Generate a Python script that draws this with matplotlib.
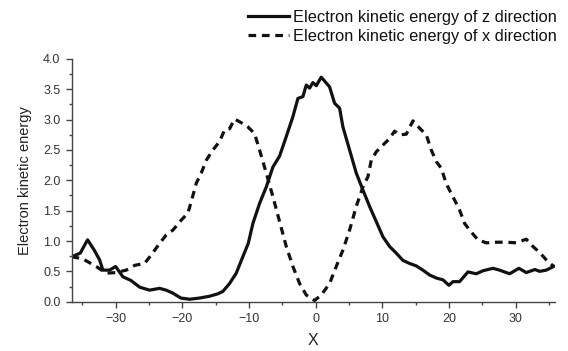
import matplotlib
matplotlib.use("Agg")
import matplotlib.pyplot as plt
from matplotlib.ticker import MultipleLocator

plt.rcParams['font.family'] = ['Liberation Sans', 'DejaVu Sans']

z_x = [-36.6, -35.3, -34.2, -33.2, -32.4, -31.9, -30.9, -30.0, -28.9, -27.7, -26.4, -24.9,
       -23.4, -22.4, -21.4, -20.2, -18.9, -17.4, -15.9, -14.65, -13.9, -12.9, -11.9, -11.1,
       -10.1, -9.4, -8.4, -7.4, -6.4, -5.4, -4.4, -3.4, -2.65, -1.9, -1.4, -0.9, -0.4, 0.1,
       0.85, 2.1, 2.85, 3.6, 4.1, 5.1, 6.1, 7.1, 8.1, 9.1, 10.1, 11.1, 12.1, 13.1, 14.1,
       15.1, 16.1, 17.1, 18.1, 19.1, 20.0, 20.6, 21.6, 22.85, 24.1, 25.1, 26.6, 27.6, 29.1,
       30.5, 31.6, 32.9, 33.6, 34.6, 35.7]
z_y = [0.74, 0.80, 1.02, 0.85, 0.69, 0.52, 0.52, 0.58, 0.41, 0.35, 0.24, 0.19,
       0.22, 0.19, 0.14, 0.06, 0.04, 0.06, 0.09, 0.13, 0.17, 0.30, 0.47, 0.69,
       0.96, 1.29, 1.62, 1.89, 2.22, 2.40, 2.72, 3.05, 3.35, 3.38, 3.57, 3.52, 3.61, 3.56,
       3.70, 3.54, 3.27, 3.19, 2.88, 2.50, 2.12, 1.84, 1.57, 1.32, 1.07, 0.91, 0.80, 0.68, 0.63,
       0.59, 0.52, 0.44, 0.39, 0.36, 0.27, 0.33, 0.33, 0.49, 0.46, 0.51, 0.55, 0.52, 0.46,
       0.55, 0.48, 0.53, 0.50, 0.52, 0.58]

x_x = [-36.6, -35.0, -32.9, -31.4, -29.9, -28.4, -27.1, -25.65, -24.65, -23.4, -22.4, -21.4,
       -20.1, -19.15, -18.65, -17.9, -17.15, -16.4, -15.4, -14.4, -13.65, -12.9, -12.15,
       -11.15, -10.15, -9.15, -8.4, -7.4, -6.4, -5.4, -4.4, -3.4, -2.4, -1.4, -0.15, 0.85,
       2.1, 3.1, 4.1, 5.1, 6.1, 7.1, 7.85, 8.35, 9.1, 10.1, 11.1, 11.85, 12.6, 13.6, 14.6,
       15.6, 16.6, 17.35, 18.1, 18.85, 19.35, 19.85, 20.6, 21.6, 22.35, 23.1, 24.35, 25.6,
       27.1, 28.6, 30.1, 31.6, 32.6, 33.6, 34.6, 35.7]
x_y = [0.74, 0.71, 0.58, 0.47, 0.48, 0.52, 0.60, 0.63, 0.77, 0.96, 1.10, 1.18,
       1.35, 1.46, 1.65, 1.95, 2.12, 2.33, 2.50, 2.64, 2.83, 2.85, 3.01,
       2.95, 2.88, 2.77, 2.50, 2.12, 1.73, 1.32, 0.91, 0.58, 0.30, 0.11, 0.02, 0.11,
       0.30, 0.58, 0.85, 1.18, 1.57, 1.89, 2.06, 2.33, 2.47, 2.58, 2.69, 2.81, 2.75, 2.76, 2.98,
       2.86, 2.75, 2.50, 2.31, 2.20, 2.03, 1.89, 1.73, 1.51, 1.29, 1.18, 1.02, 0.97,
       0.98, 0.98, 0.97, 1.03, 0.91, 0.81, 0.69, 0.58]

labels = ["Electron kinetic energy of z direction", "Electron kinetic energy of x direction"]

fig = plt.figure(figsize=(5.68, 3.51), dpi=100)
ax = fig.add_axes([0.126, 0.1405, 0.851, 0.6915])

ax.plot(z_x, z_y, color='#111111', lw=2.3, solid_joinstyle='round', label=labels[0])
ax.plot(x_x, x_y, color='#111111', lw=2.3, linestyle=(0, (2.4, 1.8)), label=labels[1])

ax.set_xlim(-36.6, 35.9)
ax.set_ylim(0, 4.0)
ax.xaxis.set_major_locator(MultipleLocator(10))
ax.xaxis.set_minor_locator(MultipleLocator(5))
ax.yaxis.set_major_locator(MultipleLocator(0.5))
ax.yaxis.set_minor_locator(MultipleLocator(0.25))
ax.yaxis.set_major_formatter(matplotlib.ticker.FormatStrFormatter('%.1f'))

for s in ['top', 'right']:
    ax.spines[s].set_visible(False)
for s in ['left', 'bottom']:
    ax.spines[s].set_color('#444444')
    ax.spines[s].set_linewidth(1.0)

ax.tick_params(which='major', direction='out', length=4, width=1.0, color='#444444',
               labelsize=9, labelcolor='#333333', pad=4)
ax.tick_params(which='minor', direction='out', length=2.5, width=1.0, color='#444444')

ax.set_xlabel('X', fontsize=11.5, color='#222222', labelpad=6)
ax.set_ylabel('Electron kinetic energy', fontsize=10.5, color='#222222', labelpad=8)

fig.legend(loc='upper right', bbox_to_anchor=(1.0, 1.005), frameon=False, fontsize=11.8,
           handlelength=2.5, handletextpad=0.25, labelspacing=0.25, borderpad=0.2,
           labelcolor='#111111')

fig.savefig('out.png', dpi=100)
